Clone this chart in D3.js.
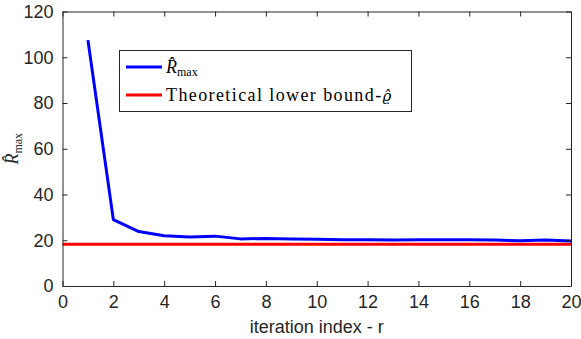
<!DOCTYPE html>
<html><head><meta charset="utf-8">
<script src="https://cdnjs.cloudflare.com/ajax/libs/d3/7.8.5/d3.min.js"></script>
<style>body{margin:0;background:#fff}</style>
</head><body>
<svg id="c" width="581" height="339"></svg>
<script>
const iterations = [1,2,3,4,5,6,7,8,9,10,11,12,13,14,15,16,17,18,19,20];
const rMax = [107.5,29,23.8,22,21.4,21.8,20.6,20.8,20.6,20.4,20.2,20.2,20.1,20.2,20.2,20.2,20.1,19.8,20.1,19.7];
const lowerBound = 18.2;
const xTicks = [0,2,4,6,8,10,12,14,16,18,20];
const yTicks = [0,20,40,60,80,100,120];

const svg = d3.select('#c');
const L=62.5, R=571, T=11.5, B=286;
const x = d3.scaleLinear().domain([0,20]).range([L,R]);
const y = d3.scaleLinear().domain([0,120]).range([B,T]);
const axC = '#262626';

// lines
svg.append('line').attr('x1',x(0)).attr('x2',x(20)).attr('y1',y(lowerBound)).attr('y2',y(lowerBound))
  .attr('stroke','#ff0000').attr('stroke-width',3);
svg.append('path').datum(iterations.map((d,i)=>[d,rMax[i]]))
  .attr('d',d3.line().x(d=>x(d[0])).y(d=>y(d[1])))
  .attr('fill','none').attr('stroke','#0000ff').attr('stroke-width',3).attr('stroke-linejoin','round');

// axes
const font = 'Liberation Sans, Arial, Helvetica, sans-serif';
const gx = svg.append('g').attr('transform',`translate(0,${B})`)
  .call(d3.axisBottom(x).tickValues(xTicks).tickSizeInner(-5).tickSizeOuter(0).tickPadding(9));
const gy = svg.append('g').attr('transform',`translate(${L},0)`)
  .call(d3.axisLeft(y).tickValues(yTicks).tickSizeInner(-5).tickSizeOuter(0).tickPadding(9));
const gxt = svg.append('g').attr('transform',`translate(0,${T})`)
  .call(d3.axisTop(x).tickValues(xTicks).tickSizeInner(-5).tickSizeOuter(0).tickFormat(''));
const gyr = svg.append('g').attr('transform',`translate(${R},0)`)
  .call(d3.axisRight(y).tickValues(yTicks).tickSizeInner(-5).tickSizeOuter(0).tickFormat(''));
[gx,gy,gxt,gyr].forEach(g=>{
  g.selectAll('path').attr('stroke',axC).attr('stroke-width',1);
  g.selectAll('line').attr('stroke',axC).attr('stroke-width',1);
  g.selectAll('text').attr('fill',axC).style('font-family',font).style('font-size','18px');
});

// x label
svg.append('text').attr('x',(L+R)/2).attr('y',333).attr('text-anchor','middle')
  .style('font-family',font).style('font-size','18px').attr('fill',axC).text('iteration index - r');

// y label
const serif = 'Liberation Serif, DejaVu Serif, serif';
const yl = svg.append('text').attr('transform',`translate(18,${(T+B)/2}) rotate(-90)`).attr('text-anchor','middle')
  .style('font-family',serif).attr('fill',axC);
yl.append('tspan').style('font-style','italic').style('font-size','18px').text('R̂');
yl.append('tspan').attr('dy',4).style('font-size','12px').text('max');

// legend
svg.append('rect').attr('x',119.5).attr('y',50.5).attr('width',292).attr('height',61)
  .attr('fill','#fff').attr('stroke',axC).attr('stroke-width',1);
svg.append('line').attr('x1',126).attr('x2',162).attr('y1',67).attr('y2',67).attr('stroke','#0000ff').attr('stroke-width',3);
svg.append('line').attr('x1',126).attr('x2',162).attr('y1',95).attr('y2',95).attr('stroke','#ff0000').attr('stroke-width',3);
const t1 = svg.append('text').attr('x',166).attr('y',73).style('font-family',serif).attr('fill','#000');
t1.append('tspan').style('font-style','italic').style('font-size','18px').text('R̂');
t1.append('tspan').attr('dy',3).style('font-size','12px').text('max');
const t2 = svg.append('text').attr('x',166).attr('y',101).style('font-family',serif).style('font-size','18px').attr('fill','#000');
t2.append('tspan').style('letter-spacing','1.4px').text('Theoretical lower bound-');
t2.append('tspan').style('font-family','DejaVu Serif, serif').style('font-style','italic').style('font-size','15px').text('ϱ\u0302');
</script>
</body></html>
